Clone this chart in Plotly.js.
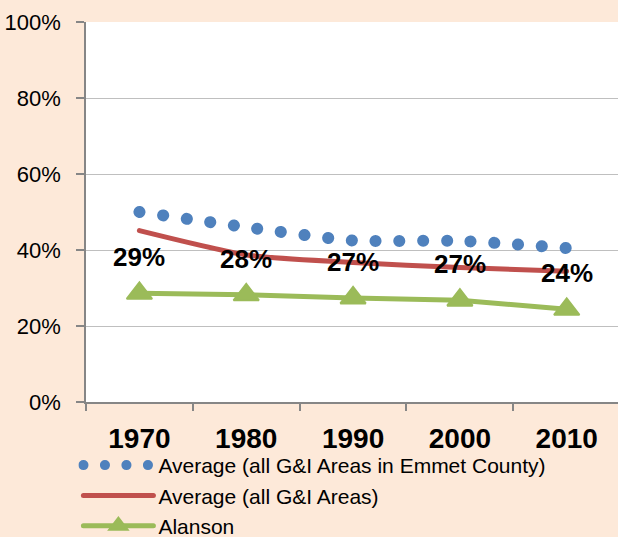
<!DOCTYPE html>
<html>
<head>
<meta charset="utf-8">
<script src="https://cdn.plot.ly/plotly-3.0.1.min.js"></script>
<style>
html, body { margin: 0; padding: 0; overflow: hidden; background: #FDE9D9; }
#chart { width: 618px; height: 537px; }
svg path.js-line { stroke-linecap: round; }
.legend .traces:first-child path.js-line { stroke-dasharray: 0.1px, 21.4px !important; }
</style>
</head>
<body>
<div id="chart"></div>
<script>
const years = ['1970', '1980', '1990', '2000', '2010'];
const emmetAvg = [0.50, 0.46, 0.425, 0.424, 0.405];
const allAvg = [0.451, 0.387, 0.367, 0.354, 0.344];
const alanson = [0.286, 0.282, 0.274, 0.268, 0.244];
const seriesNames = ['Average (all G&I Areas in Emmet County)', 'Average (all G&I Areas)', 'Alanson'];

const FONT = '"Liberation Sans", Arial, sans-serif';

const traces = [
  {
    x: years, y: emmetAvg, name: seriesNames[0], type: 'scatter', mode: 'lines',
    line: { color: '#4F81BD', width: 12, dash: '0.1px,23.7px', shape: 'spline', smoothing: 0.6 },
    hoverinfo: 'skip'
  },
  {
    x: years, y: allAvg, name: seriesNames[1], type: 'scatter', mode: 'lines',
    line: { color: '#C0504D', width: 5, shape: 'spline', smoothing: 0.6 },
    hoverinfo: 'skip'
  },
  {
    x: years, y: alanson, name: seriesNames[2], type: 'scatter', mode: 'lines+markers',
    line: { color: '#9BBB59', width: 5 },
    marker: { symbol: 'triangle-up', size: 22, color: '#9BBB59', line: { color: '#9BBB59', width: 2 } },
    hoverinfo: 'skip'
  }
];

const annotations = years.map((yr, i) => ({
  x: i, y: alanson[i], xref: 'x', yref: 'y',
  text: '<b>' + Math.round(alanson[i] * 100) + '%</b>',
  showarrow: false, yshift: 36,
  font: { family: FONT, size: 26, color: '#000000' }
}));

const layout = {
  width: 618, height: 537,
  margin: { l: 86, r: 0, t: 22, b: 135, pad: 0, autoexpand: false },
  paper_bgcolor: '#FDE9D9',
  plot_bgcolor: '#FFFFFF',
  font: { family: FONT, color: '#000000' },
  showlegend: true,
  legend: {
    orientation: 'v', x: -0.0143, xanchor: 'left', y: -0.113, yanchor: 'top',
    bgcolor: 'rgba(0,0,0,0)', borderwidth: 0,
    font: { family: FONT, size: 21, color: '#000000' },
    itemwidth: 70, tracegroupgap: 0
  },
  xaxis: {
    type: 'category', range: [-0.5, 4.48],
    tickson: 'boundaries', ticks: 'outside', ticklen: 7, tickcolor: '#868686', tickwidth: 1.5,
    showline: true, linecolor: '#868686', linewidth: 1.5,
    showgrid: false, zeroline: false,
    tickfont: { family: FONT, size: 28, weight: 'bold', color: '#000000' },
    ticklabelstandoff: 11, fixedrange: true
  },
  yaxis: {
    range: [0, 1], tickvals: [0, 0.2, 0.4, 0.6, 0.8, 1.0], tickformat: '.0%',
    ticks: 'outside', ticklen: 8, tickcolor: '#868686', tickwidth: 1.5,
    showline: true, linecolor: '#868686', linewidth: 1.5,
    showgrid: true, gridcolor: '#BFBFBF', gridwidth: 1, zeroline: false,
    tickfont: { family: FONT, size: 22, color: '#000000' },
    ticklabelstandoff: 11, fixedrange: true
  },
  annotations: annotations
};

Plotly.newPlot('chart', traces, layout, { displayModeBar: false });
</script>
</body>
</html>
